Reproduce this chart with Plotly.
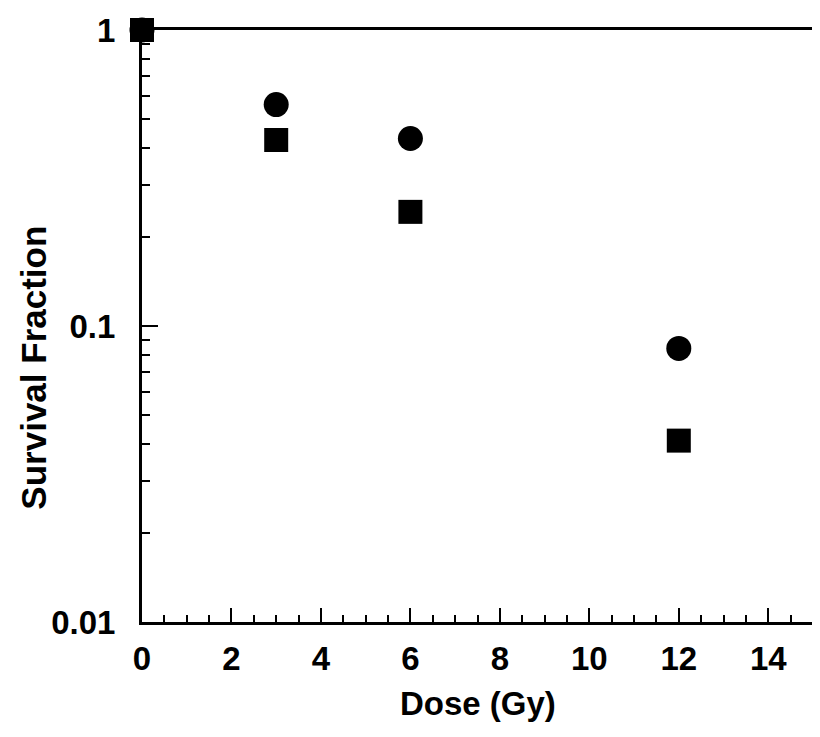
import plotly.graph_objects as go

# dose in Gy and survival fractions
dose = [0, 3, 6, 12]
surv_circle = [1.0, 0.56, 0.43, 0.084]
surv_square = [1.0, 0.425, 0.243, 0.041]

x_ticks = [0, 2, 4, 6, 8, 10, 12, 14]
y_ticks = [0.01, 0.1, 1]
y_tick_text = ["0.01", "0.1", "1"]
y_minor = [k * 10.0 ** e for e in (-2, -1) for k in range(2, 10)]

font = "Liberation Sans, Arial, sans-serif"

fig = go.Figure()

fig.add_trace(go.Scatter(
    x=dose, y=surv_circle, mode="markers",
    marker=dict(symbol="circle", size=25, color="black"),
    cliponaxis=False, showlegend=False
))
fig.add_trace(go.Scatter(
    x=dose, y=surv_square, mode="markers",
    marker=dict(symbol="square", size=24, color="black"),
    cliponaxis=False, showlegend=False
))

fig.update_xaxes(
    range=[0, 15],
    tickvals=x_ticks,
    ticks="inside", ticklen=14, tickwidth=2, tickcolor="black",
    minor=dict(dtick=0.5, tick0=0, ticks="inside", ticklen=7, tickwidth=2, tickcolor="black"),
    showline=True, linewidth=3, linecolor="black", mirror=True,
    showgrid=False, zeroline=False, automargin=False,
    tickfont=dict(family=font, size=33, color="black", weight="bold"),
    ticklabelstandoff=5,
)
fig.update_yaxes(
    type="log",
    range=[-2, 0],
    tickvals=y_ticks, ticktext=y_tick_text,
    ticks="inside", ticklen=16, tickwidth=2, tickcolor="black",
    minor=dict(tickmode="array", tickvals=y_minor, ticks="inside", ticklen=8, tickwidth=2, tickcolor="black"),
    showline=True, linewidth=3, linecolor="black", mirror=True,
    showgrid=False, zeroline=False, automargin=False,
    tickfont=dict(family=font, size=33, color="black", weight="bold"),
    ticklabelstandoff=17,
)

fig.add_annotation(
    text="Dose (Gy)", x=0.5, y=-0.1385, xref="paper", yref="paper",
    xanchor="center", yanchor="middle", showarrow=False,
    font=dict(family=font, size=33, color="black", weight="bold")
)
fig.add_annotation(
    text="Survival Fraction", x=-0.163, y=0.429, xref="paper", yref="paper",
    xanchor="center", yanchor="middle", textangle=-90, showarrow=False,
    font=dict(family=font, size=35, color="black", weight="bold")
)

fig.update_layout(
    width=812, height=729,
    margin=dict(l=134, r=7, t=22, b=115),
    plot_bgcolor="white", paper_bgcolor="white",
)

fig.write_html("out.html")
